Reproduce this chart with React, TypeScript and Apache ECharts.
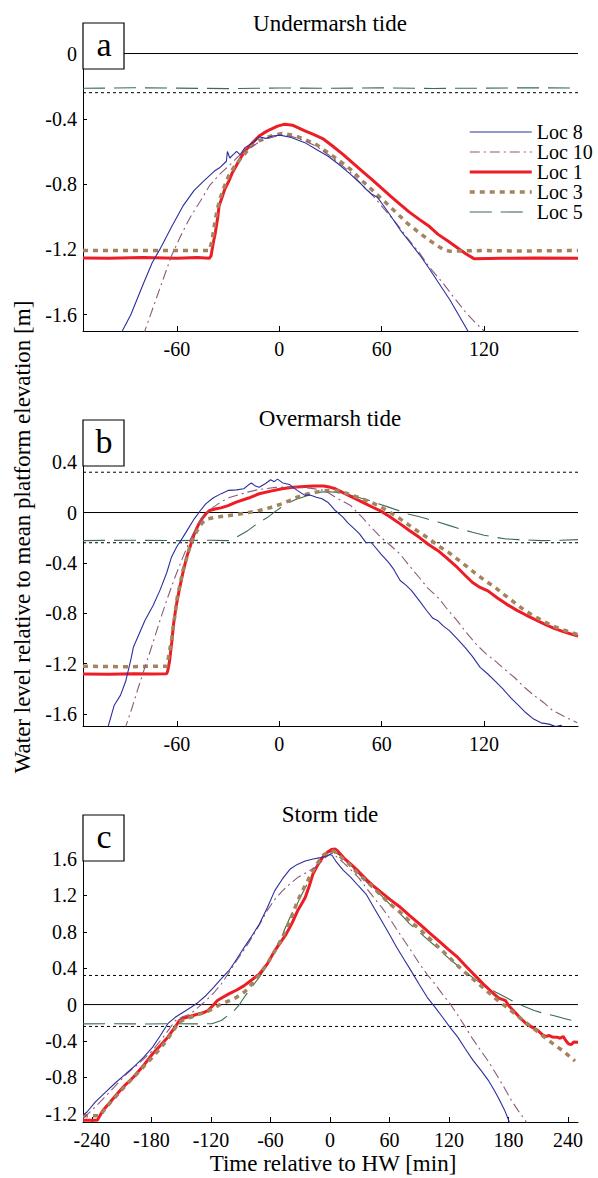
import React, { useEffect, useRef } from "react";
import * as echarts from "echarts";

// ---------- DATA ----------
const seriesNames = ["Loc 8", "Loc 10", "Loc 1", "Loc 3", "Loc 5"];
const panelTitles = ["Undermarsh tide", "Overmarsh tide", "Storm tide"];
const panelLetters = ["a", "b", "c"];
const xRanges = [[-115, 175], [-115, 175], [-249, 250]];
const yRanges = [[-1.7, 0.04], [-1.695, 0.56], [-1.29, 1.83]];
const xTicksAB = [-60, 0, 60, 120];
const xTicksC = [-240, -180, -120, -60, 0, 60, 120, 180, 240];
const yTicksA = [-1.6, -1.2, -0.8, -0.4, 0];
const yTicksB = [-1.6, -1.2, -0.8, -0.4, 0, 0.4];
const yTicksC = [-1.2, -0.8, -0.4, 0, 0.4, 0.8, 1.2, 1.6];
const refSolid = [0];
const refDotted = [0.32, -0.24];

// Panel a (undermarsh)
const a_loc8 = [[-95,-1.77],[-92,-1.70],[-87,-1.60],[-80,-1.42],[-74.4,-1.28],[-70,-1.20],[-63,-1.06],[-56.5,-0.935],[-50,-0.84],[-44.2,-0.78],[-38,-0.72],[-35,-0.70],[-31,-0.66],[-30.4,-0.60],[-29,-0.64],[-27,-0.62],[-25,-0.60],[-23,-0.62],[-20,-0.575],[-15,-0.545],[-11.8,-0.51],[-8,-0.52],[-4,-0.505],[0.4,-0.50],[7,-0.515],[15,-0.546],[22,-0.59],[28.4,-0.628],[35,-0.68],[41.8,-0.74],[47,-0.79],[50.7,-0.83],[54,-0.86],[57.4,-0.88],[63,-0.96],[70.8,-1.08],[76,-1.15],[82,-1.23],[88,-1.32],[93,-1.40],[100,-1.51],[105,-1.60],[110.5,-1.70],[113,-1.75]];
const a_loc10 = [[-80,-1.73],[-78.8,-1.70],[-70,-1.44],[-63.2,-1.24],[-57,-1.10],[-52,-1.0],[-46,-0.90],[-40.9,-0.81],[-35,-0.74],[-29.7,-0.69],[-24,-0.63],[-18.5,-0.587],[-13,-0.55],[-7.4,-0.52],[1.6,-0.50],[8,-0.51],[15,-0.535],[22,-0.57],[28.4,-0.617],[35,-0.67],[41.8,-0.73],[48,-0.80],[55,-0.873],[62,-0.96],[68.6,-1.04],[75,-1.13],[82,-1.22],[88,-1.31],[95.4,-1.40],[102,-1.49],[108.8,-1.58],[114,-1.64],[120,-1.70],[122,-1.73]];
const a_loc1 = [[-115,-1.252],[-100,-1.255],[-80,-1.25],[-60,-1.255],[-48,-1.25],[-41,-1.255],[-40,-1.24],[-38.5,-1.15],[-37.5,-1.10],[-36,-1.0],[-35.3,-0.935],[-33.5,-0.88],[-31.9,-0.83],[-29.5,-0.78],[-27.5,-0.73],[-24,-0.665],[-20.8,-0.607],[-16,-0.55],[-11.8,-0.505],[-8,-0.48],[-5.1,-0.464],[-1,-0.445],[2.7,-0.434],[8,-0.44],[15,-0.474],[20,-0.495],[26,-0.525],[31,-0.565],[37.3,-0.618],[43,-0.67],[48.5,-0.72],[54,-0.77],[59.6,-0.822],[65,-0.872],[70.8,-0.924],[76,-0.97],[82,-1.016],[88,-1.06],[93,-1.108],[99,-1.15],[104.3,-1.19],[109,-1.225],[114.3,-1.258],[130,-1.255],[150,-1.252],[175,-1.255]];
const a_loc3 = [[-115,-1.207],[-80,-1.207],[-60,-1.207],[-41,-1.207],[-39.5,-1.15],[-37.5,-1.016],[-36,-0.94],[-34.2,-0.873],[-32,-0.81],[-29.7,-0.75],[-26.5,-0.695],[-23,-0.648],[-19.5,-0.605],[-16.3,-0.566],[-12,-0.535],[-7.4,-0.515],[-3,-0.50],[1.6,-0.489],[8,-0.50],[15,-0.526],[22,-0.56],[28.4,-0.607],[35,-0.655],[41.8,-0.71],[48,-0.775],[55.2,-0.843],[62,-0.91],[68.6,-0.975],[75,-1.04],[82,-1.098],[88,-1.145],[93,-1.18],[96,-1.20],[99.8,-1.211],[120,-1.207],[140,-1.21],[175,-1.207]];
const a_loc5 = [[-115,-0.213],[-85,-0.21],[-60,-0.212],[-30,-0.215],[0,-0.211],[30,-0.213],[60,-0.21],[90,-0.214],[120,-0.212],[150,-0.21],[175,-0.212]];

// Panel b (overmarsh)
const b_loc8 = [[-102,-1.76],[-100.5,-1.71],[-96.7,-1.53],[-93,-1.45],[-90,-1.34],[-87,-1.17],[-85.5,-1.07],[-82,-0.96],[-78.8,-0.86],[-74,-0.74],[-70,-0.62],[-66,-0.48],[-63.2,-0.356],[-60,-0.27],[-56.5,-0.197],[-53,-0.12],[-49.8,-0.05],[-46,0.02],[-43.1,0.069],[-38.6,0.117],[-34,0.15],[-29.7,0.176],[-25,0.18],[-20.8,0.189],[-18,0.22],[-16.3,0.234],[-14,0.21],[-11.8,0.20],[-8,0.23],[-5.1,0.26],[-3,0.245],[-1,0.265],[2,0.235],[6,0.223],[8,0.20],[10.5,0.176],[15,0.136],[18,0.14],[21.7,0.122],[25,0.11],[28.4,0.082],[30.5,0.05],[32.8,0.016],[37.3,-0.037],[40,-0.08],[44,-0.13],[47,-0.17],[50.7,-0.237],[54,-0.24],[59.6,-0.33],[64,-0.396],[67,-0.45],[70.8,-0.54],[74,-0.575],[77.5,-0.62],[82,-0.70],[86.4,-0.78],[90,-0.84],[93,-0.86],[96,-0.90],[99.8,-0.94],[104,-1.0],[108.8,-1.07],[113,-1.14],[117.7,-1.23],[122,-1.28],[126.6,-1.34],[131,-1.40],[135.5,-1.47],[140,-1.53],[144.5,-1.59],[149,-1.64],[153.4,-1.67],[158,-1.68],[162,-1.70],[165,-1.69],[168,-1.72]];
const b_loc10 = [[-91,-1.73],[-90,-1.70],[-86.5,-1.56],[-83.3,-1.42],[-79,-1.24],[-74.4,-1.05],[-70,-0.86],[-65.4,-0.675],[-61,-0.51],[-56.5,-0.356],[-52,-0.21],[-47.6,-0.09],[-43,-0.01],[-38.6,0.043],[-34,0.085],[-29.7,0.117],[-24,0.14],[-18.5,0.162],[-13,0.18],[-7.4,0.19],[-2,0.20],[3.8,0.202],[9,0.20],[15,0.197],[20,0.19],[26,0.176],[29,0.155],[32.8,0.122],[37,0.09],[41.8,0.056],[45,0.01],[48.5,-0.037],[54,-0.12],[59.6,-0.197],[65,-0.26],[70.8,-0.33],[76,-0.42],[82,-0.516],[87,-0.60],[93,-0.675],[98,-0.76],[104.3,-0.86],[110,-0.96],[115.5,-1.048],[121,-1.12],[126.6,-1.18],[132,-1.245],[137.8,-1.31],[143,-1.38],[149,-1.45],[155,-1.51],[160,-1.57],[167,-1.62],[174.6,-1.67]];
const b_loc1 = [[-115,-1.282],[-100,-1.285],[-85,-1.28],[-75,-1.283],[-66,-1.28],[-65.4,-1.26],[-64.3,-1.18],[-63,-1.03],[-62,-0.89],[-60.5,-0.75],[-58.7,-0.62],[-56.5,-0.48],[-54.3,-0.356],[-52,-0.26],[-49.8,-0.17],[-47.5,-0.10],[-45.3,-0.05],[-43,-0.01],[-40.9,0.016],[-37,0.03],[-34.2,0.037],[-30,0.055],[-25.2,0.082],[-18,0.115],[-11.8,0.149],[-5,0.17],[1.6,0.189],[8,0.20],[15,0.207],[20,0.21],[26,0.21],[30,0.20],[32.8,0.189],[37,0.16],[41.8,0.128],[46,0.10],[50.7,0.069],[55,0.04],[59.6,0.011],[65,-0.035],[70.8,-0.09],[76,-0.14],[82,-0.197],[87,-0.25],[93,-0.303],[98,-0.36],[104.3,-0.436],[109,-0.50],[113.2,-0.556],[117,-0.59],[122.2,-0.622],[128,-0.68],[133.3,-0.729],[139,-0.775],[144.5,-0.814],[150,-0.85],[155.7,-0.888],[161,-0.92],[166.8,-0.947],[171,-0.965],[175,-0.981]];
const b_loc3 = [[-115,-1.22],[-90,-1.225],[-75,-1.22],[-66,-1.22],[-65,-1.15],[-63.2,-1.02],[-61.5,-0.85],[-59.8,-0.675],[-58,-0.56],[-56.5,-0.463],[-54,-0.35],[-52,-0.25],[-49.5,-0.18],[-47.6,-0.13],[-45,-0.08],[-42,-0.05],[-38,-0.04],[-34.2,-0.032],[-30,-0.025],[-25.2,-0.016],[-18,0.0],[-11.8,0.016],[-5,0.04],[1.6,0.069],[6,0.095],[10.5,0.122],[16,0.145],[21.7,0.162],[26,0.172],[30.6,0.176],[34,0.172],[37.3,0.162],[42,0.14],[48.5,0.109],[54,0.08],[59.6,0.043],[65,0.0],[70.8,-0.05],[76,-0.10],[82,-0.157],[88,-0.21],[93,-0.263],[99,-0.315],[104.3,-0.37],[110,-0.43],[115.5,-0.49],[121,-0.545],[126.6,-0.596],[132,-0.655],[137.8,-0.715],[143,-0.77],[149,-0.82],[155,-0.865],[160,-0.90],[167,-0.935],[174.6,-0.968]];
const b_loc5 = [[-115,-0.223],[-90,-0.22],[-60,-0.223],[-40,-0.22],[-29.7,-0.223],[-25.2,-0.197],[-18.5,-0.144],[-11.8,-0.077],[-7,-0.04],[-2.9,0.003],[1,0.04],[6,0.082],[10,0.105],[15,0.128],[19,0.145],[23.9,0.162],[28,0.165],[32.8,0.162],[37,0.15],[41.8,0.136],[47,0.118],[52.9,0.096],[58,0.07],[64,0.043],[70,0.015],[75.3,-0.011],[81,-0.03],[86.4,-0.05],[93,-0.075],[99.8,-0.104],[106,-0.13],[113.2,-0.157],[120,-0.18],[126.6,-0.197],[133,-0.21],[140,-0.215],[153.4,-0.223],[165,-0.22],[175,-0.215]];

// Panel c (storm)
const c_loc8 = [[-249,-1.216],[-245,-1.18],[-236.5,-1.07],[-227,-0.97],[-217.3,-0.87],[-208,-0.78],[-198,-0.686],[-188,-0.58],[-178.8,-0.467],[-171,-0.34],[-163.5,-0.21],[-156,-0.14],[-148,-0.084],[-140,-0.03],[-132.7,0.026],[-125,0.10],[-117.3,0.19],[-110,0.28],[-101.9,0.372],[-94,0.50],[-86.5,0.628],[-79,0.75],[-71.2,0.884],[-63,1.07],[-55.8,1.249],[-48,1.38],[-40.4,1.486],[-33,1.54],[-25,1.577],[-17,1.60],[-9.6,1.614],[-4,1.63],[0,1.65],[2,1.64],[5.8,1.577],[13,1.48],[21.2,1.395],[29,1.30],[36.5,1.212],[44,1.07],[52,0.92],[60,0.77],[67.3,0.628],[75,0.49],[82.7,0.354],[90,0.22],[98,0.08],[106,-0.03],[113.5,-0.139],[121,-0.25],[128.8,-0.358],[136,-0.48],[144.2,-0.613],[152,-0.72],[159.6,-0.832],[166,-0.95],[171,-1.05],[176,-1.16],[180.8,-1.29],[182,-1.32]];
const c_loc10 = [[-249,-1.25],[-240,-1.16],[-230,-1.05],[-217.3,-0.905],[-205,-0.76],[-192,-0.64],[-178.8,-0.504],[-167,-0.34],[-155.8,-0.175],[-148,-0.13],[-140.4,-0.102],[-133,-0.03],[-125,0.044],[-117,0.13],[-109.6,0.226],[-102,0.35],[-94.2,0.482],[-86,0.61],[-78.8,0.737],[-71,0.88],[-63.5,1.03],[-56,1.15],[-48,1.249],[-40,1.33],[-32.7,1.395],[-27,1.43],[-21.2,1.468],[-15,1.51],[-9.6,1.559],[-4,1.62],[1.9,1.668],[7,1.62],[13.5,1.559],[21,1.48],[28.8,1.395],[36,1.29],[44.2,1.176],[52,1.07],[59.6,0.957],[67,0.83],[75,0.701],[83,0.57],[90.4,0.445],[98,0.33],[105.8,0.226],[113,0.12],[121.2,0.007],[129,-0.12],[136.5,-0.248],[144,-0.38],[151.9,-0.504],[160,-0.63],[167.3,-0.759],[175,-0.90],[182.7,-1.05],[190,-1.17],[198,-1.29],[200,-1.32]];
const c_loc1 = [[-249,-1.27],[-240,-1.27],[-234.6,-1.27],[-228.8,-1.16],[-223,-1.09],[-217.3,-1.015],[-208,-0.90],[-198,-0.796],[-188,-0.67],[-178.8,-0.54],[-171,-0.45],[-163.5,-0.358],[-157,-0.26],[-151.9,-0.175],[-148,-0.15],[-144.2,-0.139],[-138,-0.12],[-132.7,-0.102],[-128,-0.09],[-123,-0.066],[-118,-0.01],[-113.5,0.044],[-108,0.08],[-101.9,0.117],[-94,0.16],[-86.5,0.208],[-79,0.27],[-71.2,0.336],[-63,0.45],[-55.8,0.591],[-50,0.68],[-44.2,0.774],[-38,0.90],[-32.7,1.03],[-29,1.10],[-25,1.176],[-21,1.30],[-17.3,1.431],[-12,1.54],[-7.7,1.614],[-3,1.67],[1.9,1.705],[5,1.71],[7.7,1.687],[14,1.61],[21.2,1.541],[29,1.46],[36.5,1.376],[44,1.30],[52,1.23],[61,1.15],[71.2,1.066],[80,0.98],[90.4,0.884],[100,0.79],[109.6,0.701],[119,0.61],[128.8,0.518],[138,0.41],[148,0.299],[156,0.21],[163.5,0.135],[170,0.07],[173,0.06],[176.9,0.044],[180,-0.01],[186.5,-0.084],[192,-0.15],[198,-0.212],[204,-0.25],[209.6,-0.285],[214,-0.33],[217.3,-0.35],[221,-0.34],[224,-0.355],[228.8,-0.358],[232,-0.37],[235,-0.35],[238,-0.40],[240.4,-0.431],[243,-0.44],[246,-0.41],[250,-0.413]];
const c_loc3 = [[-249,-1.22],[-236,-1.22],[-232,-1.22],[-225,-1.12],[-215,-1.0],[-205.8,-0.887],[-192,-0.73],[-178.8,-0.577],[-171,-0.48],[-163.5,-0.376],[-157,-0.27],[-151.9,-0.193],[-146,-0.16],[-140.4,-0.139],[-133,-0.11],[-125,-0.084],[-117,-0.04],[-109.6,0.007],[-102,0.04],[-94.2,0.08],[-86,0.14],[-78.8,0.226],[-71,0.33],[-63.5,0.445],[-56,0.58],[-48,0.737],[-40,0.93],[-32.7,1.139],[-25,1.31],[-17.3,1.468],[-11,1.58],[-5.8,1.65],[3.8,1.687],[10,1.63],[21.2,1.522],[28,1.44],[36.5,1.358],[44,1.28],[52,1.194],[61,1.10],[71.2,1.011],[80,0.92],[90.4,0.829],[100,0.73],[109.6,0.628],[119,0.53],[128.8,0.427],[138,0.335],[148,0.245],[158,0.15],[167.3,0.062],[177,-0.02],[186.5,-0.102],[196,-0.185],[205.8,-0.267],[215,-0.35],[225,-0.431],[235,-0.51],[244.2,-0.595],[247,-0.62]];
const c_loc5 = [[-249,-0.212],[-220,-0.21],[-190,-0.213],[-160,-0.21],[-130,-0.212],[-119,-0.21],[-109.6,-0.175],[-104,-0.13],[-98,-0.084],[-92,-0.01],[-86.5,0.08],[-79,0.19],[-71.2,0.3],[-63,0.44],[-55.8,0.59],[-48,0.77],[-40.4,0.957],[-32,1.13],[-25,1.285],[-17,1.44],[-9.6,1.577],[-4,1.65],[1.9,1.687],[7,1.66],[13.5,1.614],[22,1.51],[32.7,1.395],[42,1.29],[52,1.194],[61,1.095],[71.2,0.993],[80,0.89],[90.4,0.792],[100,0.70],[109.6,0.61],[119,0.515],[128.8,0.427],[138,0.345],[148,0.263],[158,0.195],[167.3,0.135],[177,0.08],[186.5,0.026],[196,-0.02],[205.8,-0.066],[215,-0.095],[225,-0.12],[237,-0.155],[250,-0.193]];

const panelData = [
  { loc8: a_loc8, loc10: a_loc10, loc1: a_loc1, loc3: a_loc3, loc5: a_loc5 },
  { loc8: b_loc8, loc10: b_loc10, loc1: b_loc1, loc3: b_loc3, loc5: b_loc5 },
  { loc8: c_loc8, loc10: c_loc10, loc1: c_loc1, loc3: c_loc3, loc5: c_loc5 },
];

// ---------- STYLE ----------
const FONT = "'Liberation Serif', serif";
const GRID_LEFT = 83;
const GRID_W = 495;
const gridTops = [47, 442, 838];
const GRID_H = 284;

const styles: Record<string, any> = {
  "Loc 8": { color: "#2b2f9c", width: 1.1, type: "solid" },
  "Loc 10": { color: "#8c5a7c", width: 1.1, type: [10, 4, 2, 4] },
  "Loc 1": { color: "#ee1c24", width: 3, type: "solid" },
  "Loc 3": { color: "#a4845e", width: 3.5, type: [5, 5] },
  "Loc 5": { color: "#3c6b52", width: 1.1, type: [22, 9] },
};

export default function App() {
  const ref = useRef<HTMLDivElement>(null);

  useEffect(() => {
    if (!ref.current) return;
    document.body.style.margin = "0";
    const chart = echarts.init(ref.current, null, { renderer: "svg" });

    const grids = gridTops.map((top) => ({ left: GRID_LEFT, top, width: GRID_W, height: GRID_H }));
    const yTickSets = [yTicksA, yTicksB, yTicksC];
    const xTickSets = [xTicksAB, xTicksAB, xTicksC];

    const xAxes = [0, 1, 2].map((i) => ({
      type: "value",
      gridIndex: i,
      min: xRanges[i][0],
      max: xRanges[i][1],
      axisLine: { show: true, onZero: false, lineStyle: { color: "#000", width: 1 } },
      axisTick: { show: true, inside: true, length: 5, customValues: xTickSets[i], lineStyle: { color: "#000" } },
      axisLabel: { show: true, customValues: xTickSets[i], margin: 8, fontSize: 20, color: "#000", fontFamily: FONT },
      splitLine: { show: false },
    }));
    const yAxes = [0, 1, 2].map((i) => ({
      type: "value",
      gridIndex: i,
      min: yRanges[i][0],
      max: yRanges[i][1],
      axisLine: { show: true, onZero: false, lineStyle: { color: "#000", width: 1 } },
      axisTick: { show: true, inside: true, length: 4, customValues: yTickSets[i], lineStyle: { color: "#000" } },
      axisLabel: {
        show: true,
        customValues: yTickSets[i],
        margin: 6,
        fontSize: 20,
        color: "#000",
        fontFamily: FONT,
        formatter: (v: number) => String(Math.round(v * 10) / 10),
      },
      splitLine: { show: false },
    }));

    const series: any[] = [];
    [0, 1, 2].forEach((i) => {
      const [x0, x1] = xRanges[i];
      refSolid.forEach((y) => {
        series.push({
          type: "line", name: "ref", xAxisIndex: i, yAxisIndex: i, symbol: "none", silent: true,
          data: [[x0, y], [x1, y]], lineStyle: { color: "#000", width: 1, type: "solid" },
        });
      });
      refDotted.forEach((y) => {
        if (y > yRanges[i][1]) return;
        series.push({
          type: "line", name: "ref", xAxisIndex: i, yAxisIndex: i, symbol: "none", silent: true,
          data: [[x0, y], [x1, y]], lineStyle: { color: "#000", width: 1, type: [3, 3] },
        });
      });
      const d: any = panelData[i];
      const order: [string, any][] = [
        ["Loc 5", d.loc5],
        ["Loc 1", d.loc1],
        ["Loc 3", d.loc3],
        ["Loc 10", d.loc10],
        ["Loc 8", d.loc8],
      ];
      order.forEach(([name, data]) => {
        const st = styles[name];
        series.push({
          type: "line", name, xAxisIndex: i, yAxisIndex: i, symbol: "none", showSymbol: false,
          data, color: st.color, clip: true,
          lineStyle: { color: st.color, width: st.width, type: st.type },
          emphasis: { disabled: true },
        });
      });
    });

    const txt = (text: string, x: number, y: number, size: number, extra: any = {}) => ({
      type: "text", x, y, z: 101, ...extra,
      style: { text, fontSize: size, fontFamily: FONT, fill: "#000", align: "center", verticalAlign: "middle" },
    });

    const graphics: any[] = [];
    panelTitles.forEach((t, i) => {
      graphics.push(txt(t, 330, [23, 418, 814][i], 23));
      const boxTop = [23, 420, 815][i];
      graphics.push({
        type: "rect", z: 100, shape: { x: 83, y: boxTop, width: 41, height: 46 },
        style: { fill: "#fff", stroke: "#000", lineWidth: 1.2 },
      });
      graphics.push(txt(panelLetters[i], 104, boxTop + 21, 34));
    });
    graphics.push(txt("Water level relative to mean platform elevation [m]", 22, 537, 23, { rotation: Math.PI / 2 }));
    graphics.push(txt("Time relative to HW [min]", 333, 1163, 23));

    const legendData = seriesNames.map((n) => ({
      name: n,
      lineStyle: { color: styles[n].color, width: styles[n].width, type: styles[n].type },
    }));

    chart.setOption({
      animation: false,
      backgroundColor: "#fff",
      grid: grids,
      xAxis: xAxes,
      yAxis: yAxes,
      legend: {
        orient: "vertical",
        left: 468,
        top: 122,
        padding: 0,
        itemWidth: 62,
        itemHeight: 14,
        itemGap: 0,
        selectedMode: false,
        data: legendData,
        itemStyle: { opacity: 0 },
        textStyle: { fontSize: 20, fontFamily: FONT, color: "#000", lineHeight: 20 },
      },
      series,
      graphic: graphics,
    });

    return () => chart.dispose();
  }, []);

  return <div ref={ref} style={{ width: 598, height: 1178 }} />;
}
